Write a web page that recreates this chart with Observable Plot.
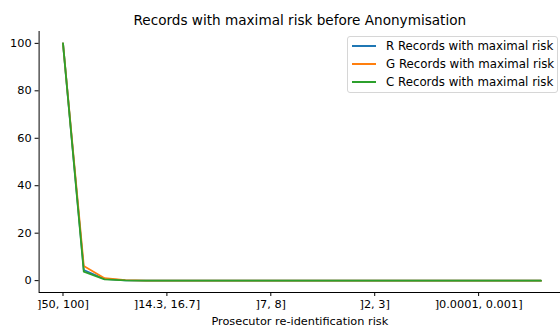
<!DOCTYPE html>
<html>
<head>
<meta charset="utf-8">
<script src="https://cdn.jsdelivr.net/npm/d3@7"></script>
<script src="https://cdn.jsdelivr.net/npm/@observablehq/plot@0.6"></script>
<style>
  html, body { margin: 0; padding: 0; background: #fff; }
  #wrap { position: relative; width: 560px; height: 329px; font-family: "DejaVu Sans", sans-serif; }
  #legend { position: absolute; left: 347px; top: 36px; width: 211px; height: 57px;
    border: 1px solid #d6d6d6; border-radius: 3px; background: rgba(255,255,255,0.8);
    font-size: 11.8px; color: #000; box-sizing: border-box; }
  .row { position: absolute; left: 0; height: 14px; line-height: 14px; white-space: nowrap; }
  .sw { position: absolute; left: 4px; top: 6px; width: 24px; height: 2px; }
  .lbl { position: absolute; left: 38px; top: 0; }
</style>
</head>
<body>
<div id="wrap"></div>
<script>
const title = "Records with maximal risk before Anonymisation";
const xLabel = "Prosecutor re-identification risk";
const categories = [
  "]50, 100]", "]33.4, 50]", "]25, 33.4]", "]20, 25]", "]16.7, 20]", "]14.3, 16.7]",
  "]12.5, 14.3]", "]10, 12.5]", "]9, 10]", "]8, 9]", "]7, 8]", "]6, 7]", "]5, 6]",
  "]4, 5]", "]3, 4]", "]2, 3]", "]1, 2]", "]0.1, 1]", "]0.01, 0.1]", "]0.001, 0.01]",
  "]0.0001, 0.001]", "]0.00001, 0.0001]", "]0.000001, 0.00001]", "]0, 0.000001]"
];
const seriesNames = ["R Records with maximal risk", "G Records with maximal risk", "C Records with maximal risk"];
const seriesColors = ["#1f77b4", "#ff7f0e", "#2ca02c"];
const rValues = [100, 4.5, 0.7, 0.1, 0, 0, 0, 0, 0, 0, 0, 0, 0, 0, 0, 0, 0, 0, 0, 0, 0, 0, 0, 0];
const gValues = [100, 6.2, 1.0, 0.2, 0, 0, 0, 0, 0, 0, 0, 0, 0, 0, 0, 0, 0, 0, 0, 0, 0, 0, 0, 0];
const cValues = [100, 3.8, 0.5, 0.1, 0, 0, 0, 0, 0, 0, 0, 0, 0, 0, 0, 0, 0, 0, 0, 0, 0, 0, 0, 0];
const xTicks = [0, 5, 10, 15, 20];
const yTicks = [0, 20, 40, 60, 80, 100];

const allSeries = [rValues, gValues, cValues];
const data = allSeries.flatMap((vals, s) => vals.map((v, i) => ({i, v, s: seriesNames[s]})));

const chart = Plot.plot({
  width: 560,
  height: 329,
  marginLeft: 38.6,
  marginRight: 0,
  marginTop: 31,
  marginBottom: 37,
  style: {fontFamily: "DejaVu Sans, sans-serif", fontSize: "11.3px", color: "#000", background: "#fff"},
  x: {type: "linear", domain: [-1.15, 23.94]},
  y: {domain: [-5, 105]},
  color: {domain: seriesNames, range: seriesColors},
  marks: [
    Plot.axisX({ticks: xTicks, tickFormat: i => categories[i], tickSize: 4, tickPadding: 3, label: null, fontSize: "11.3px"}),
    Plot.axisY({ticks: yTicks, tickSize: 4, tickPadding: 3.5, label: null, fontSize: "11.3px"}),
    Plot.ruleY([-5], {stroke: "#000", strokeWidth: 1}),
    Plot.ruleX([-1.15], {stroke: "#000", strokeWidth: 1}),
    Plot.line(data, {x: "i", y: "v", z: "s", stroke: "s", strokeWidth: 1.8}),
    Plot.text([title], {frameAnchor: "top", dy: -16, fontSize: "13.6px", text: d => d, fill: "#000"}),
    Plot.text([xLabel], {frameAnchor: "bottom", dy: 32, fontSize: "11.3px", text: d => d, fill: "#000"})
  ]
});
const wrap = document.getElementById("wrap");
wrap.appendChild(chart);

const legend = document.createElement("div");
legend.id = "legend";
seriesNames.forEach((name, k) => {
  const row = document.createElement("div");
  row.className = "row";
  row.style.top = (1.5 + k * 18.3) + "px";
  row.style.width = "100%";
  const sw = document.createElement("div");
  sw.className = "sw";
  sw.style.background = seriesColors[k];
  const lb = document.createElement("span");
  lb.className = "lbl";
  lb.textContent = name;
  row.appendChild(sw);
  row.appendChild(lb);
  legend.appendChild(row);
});
wrap.appendChild(legend);
</script>
</body>
</html>
